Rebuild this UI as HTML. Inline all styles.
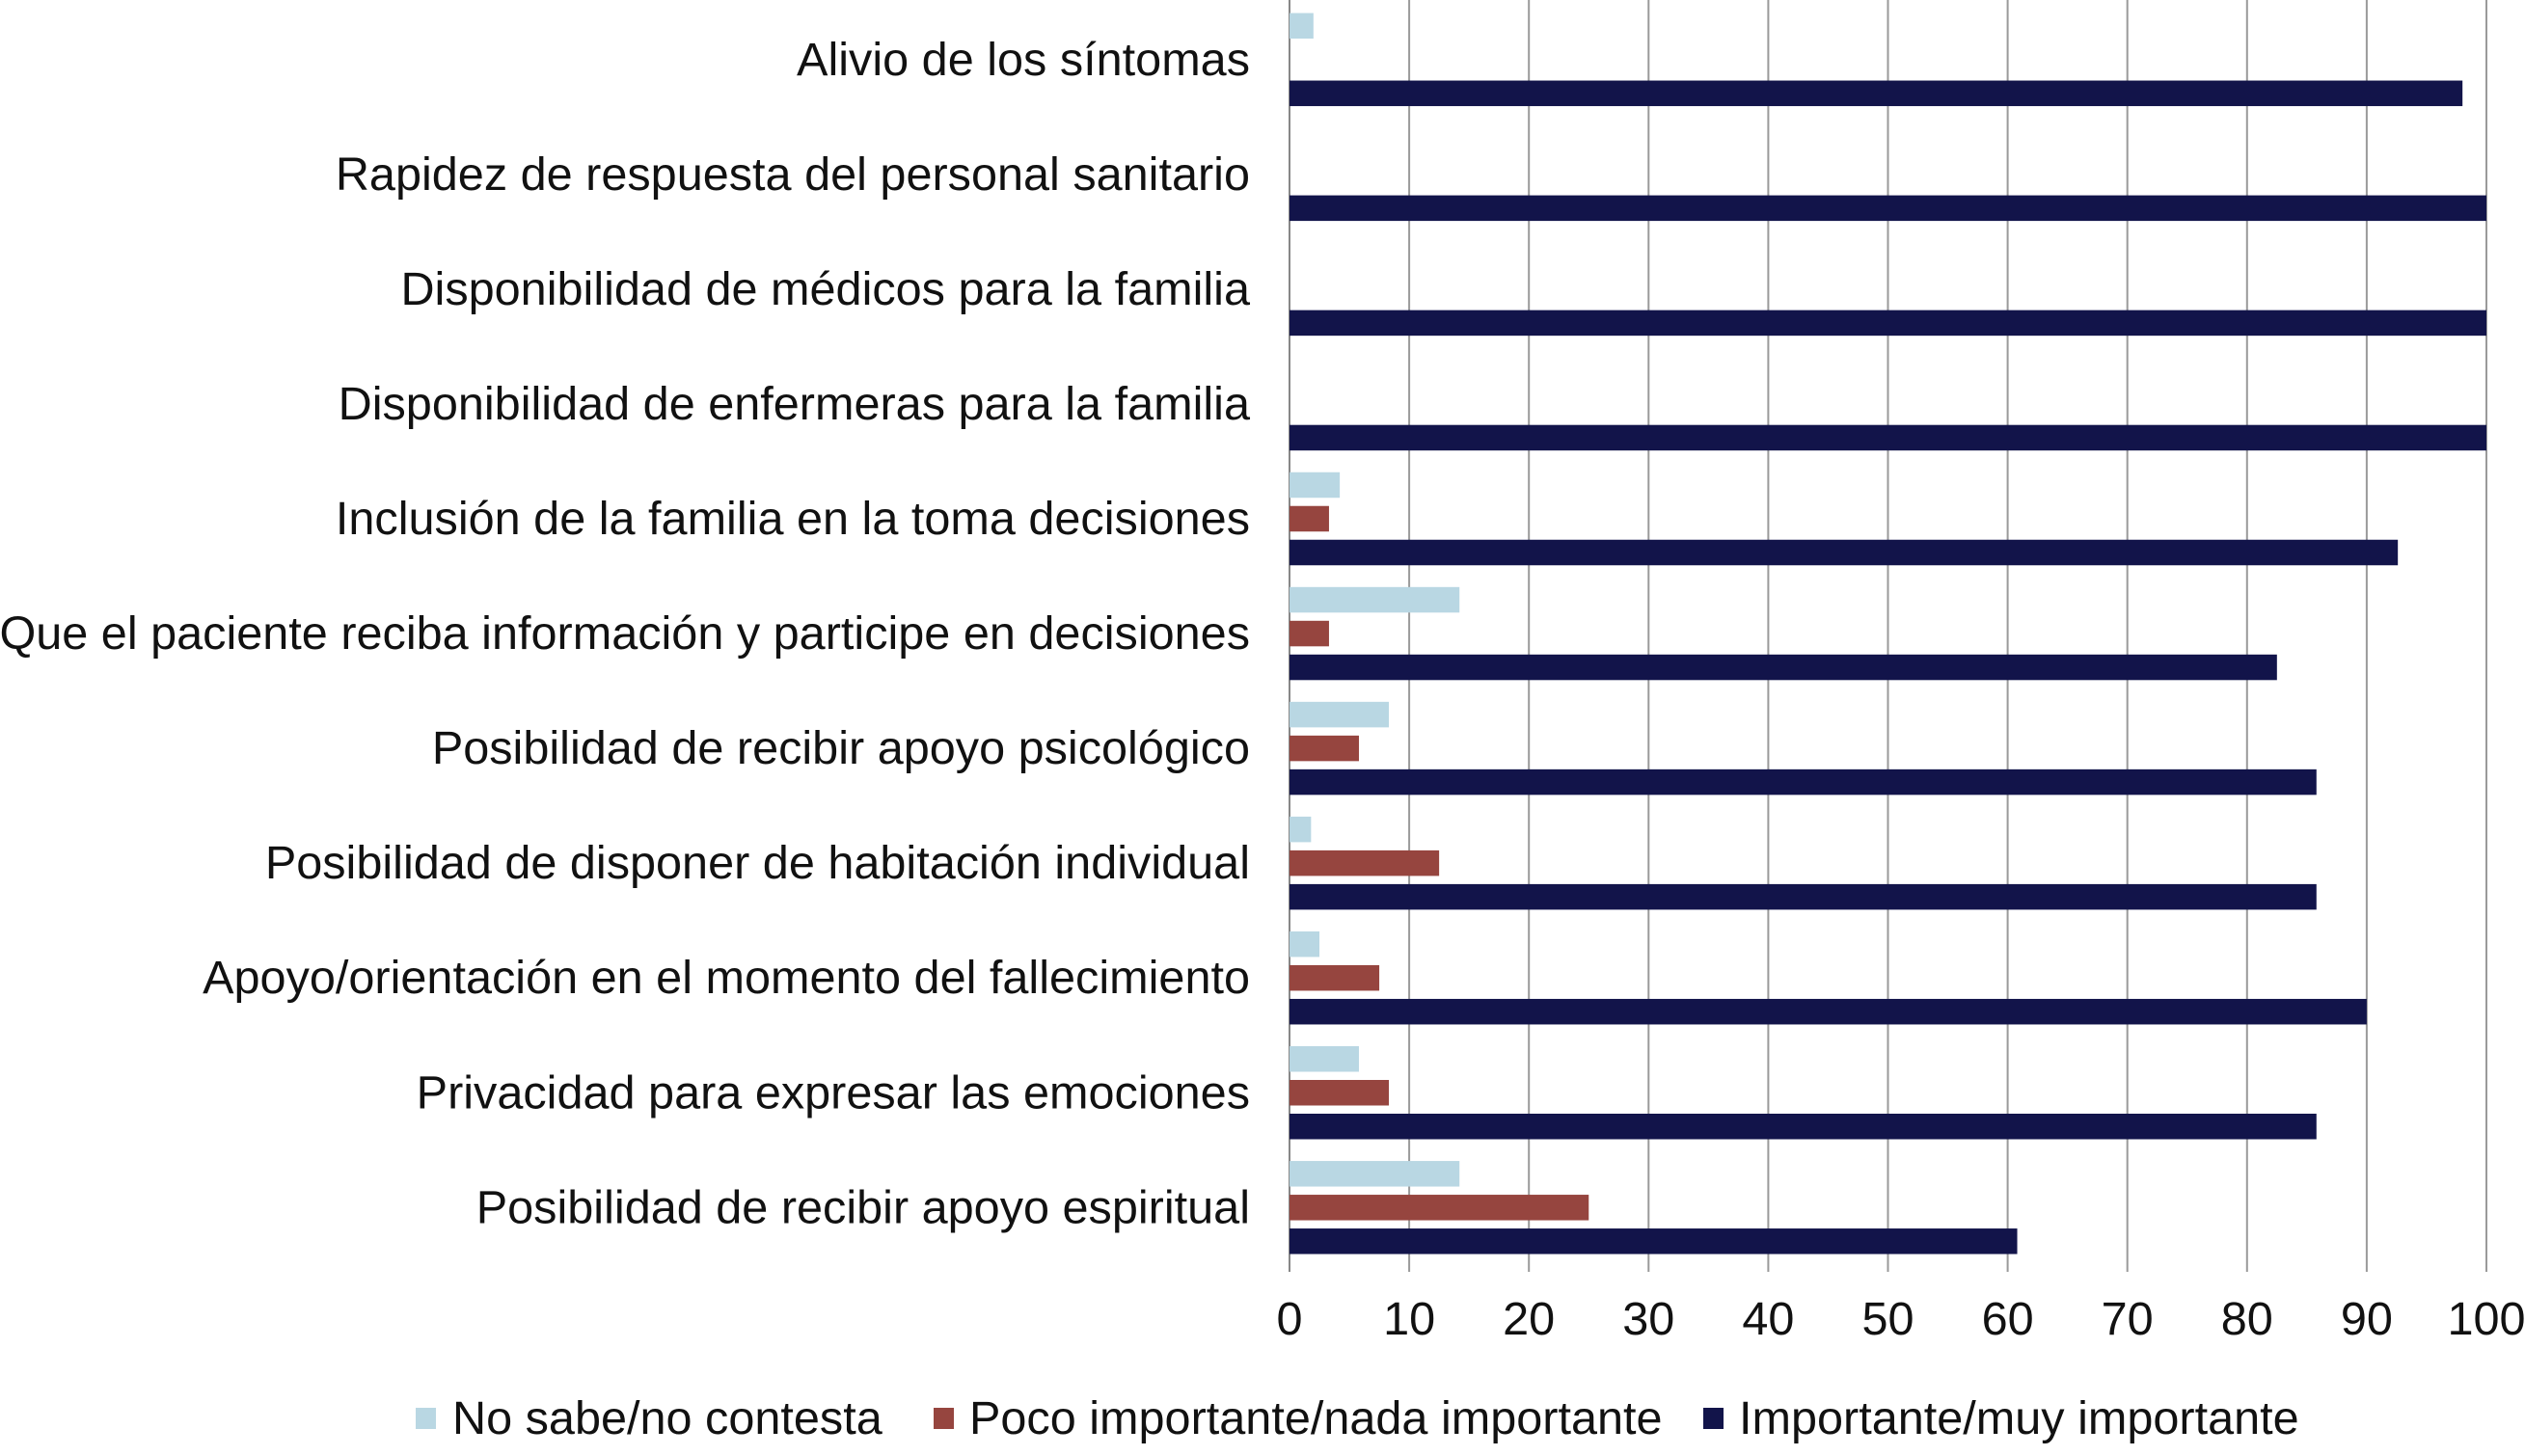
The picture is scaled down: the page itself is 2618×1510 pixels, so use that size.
<!DOCTYPE html>
<html><head><meta charset="utf-8"><style>
html,body{margin:0;padding:0;background:#fff;}
svg{display:block;font-family:"Liberation Sans",Arial,sans-serif;}
</style></head><body>
<svg id="chart" width="2618" height="1510" viewBox="0 0 2618 1510" xmlns="http://www.w3.org/2000/svg">
<g id="grid"></g>
<g id="bars"></g>
<g id="labels"></g>
<g id="ticks"></g>
<g id="legend">
  <rect x="431" y="1460" width="21" height="22" fill="#b9d7e3"/>
  <text x="469" y="1487" font-size="48.6" fill="#111">No sabe/no contesta</text>
  <rect x="968" y="1460" width="21" height="22" fill="#96453f"/>
  <text x="1005" y="1487" font-size="48.6" fill="#111">Poco importante/nada importante</text>
  <rect x="1766" y="1460" width="21" height="22" fill="#12144a"/>
  <text x="1803" y="1487" font-size="48.6" fill="#111">Importante/muy importante</text>
</g>
</svg>
<script>
const categories = [
  "Alivio de los síntomas",
  "Rapidez de respuesta del personal sanitario",
  "Disponibilidad de médicos para la familia",
  "Disponibilidad de enfermeras para la familia",
  "Inclusión de la familia en la toma decisiones",
  "Que el paciente reciba información y participe en decisiones",
  "Posibilidad de recibir apoyo psicológico ",
  "Posibilidad de disponer de habitación individual",
  "Apoyo/orientación en el momento del fallecimiento",
  "Privacidad para expresar las emociones",
  "Posibilidad de recibir apoyo espiritual"
];
const noSabe = [2, 0, 0, 0, 4.2, 14.2, 8.3, 1.8, 2.5, 5.8, 14.2];
const pocoImportante = [0, 0, 0, 0, 3.3, 3.3, 5.8, 12.5, 7.5, 8.3, 25];
const importante = [98, 100, 100, 100, 92.6, 82.5, 85.8, 85.8, 90, 85.8, 60.8];
const tickValues = [0, 10, 20, 30, 40, 50, 60, 70, 80, 90, 100];

const NS = "http://www.w3.org/2000/svg";
const X0 = 1337, X1 = 2578;
const xScale = v => X0 + (X1 - X0) * v / 100;
const yCenter = i => 61.8 + i * 119.05;
const BH = 26.5, PITCH = 35;
const colors = ["#b9d7e3", "#96453f", "#12144a"];
const series = [noSabe, pocoImportante, importante];
const seriesNames = ["no-sabe", "poco-importante", "importante"];

function mk(tag, attrs, parent) {
  const e = document.createElementNS(NS, tag);
  for (const k in attrs) e.setAttribute(k, attrs[k]);
  parent.appendChild(e);
  return e;
}
const grid = document.getElementById('grid');
const bars = document.getElementById('bars');
const labels = document.getElementById('labels');
const ticks = document.getElementById('ticks');

tickValues.forEach(t => {
  const x = xScale(t);
  const l = mk('line', {x1: x, x2: x, y1: 0, y2: 1319, stroke: t === 0 ? '#888' : '#9a9a9a', 'stroke-width': 2}, grid);
  
  
  const tx = mk('text', {x: x, y: 1384, 'font-size': 48.6, 'text-anchor': 'middle', fill: '#111'}, ticks);
  tx.textContent = t;
  
  
});

categories.forEach((c, i) => {
  const cy = yCenter(i);
  series.forEach((s, k) => {
    const v = s[i];
    if (v <= 0) return;
    const y = cy + (k - 1) * PITCH - BH / 2;
    const r = mk('rect', {x: X0, y: y, width: xScale(v) - X0, height: BH, fill: colors[k]}, bars);
    
    
  });
  const t = mk('text', {x: 1296, y: cy + 16, 'font-size': 48.6, 'text-anchor': 'end', fill: '#111'}, labels);
  t.textContent = c;
  
  
});
</script>
</body></html>
